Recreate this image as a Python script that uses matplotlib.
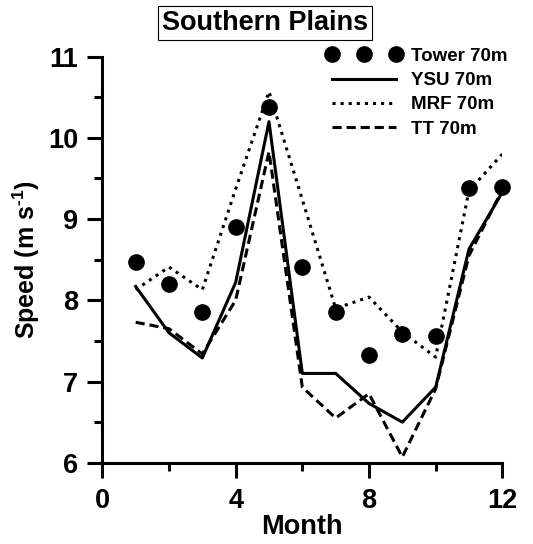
import numpy as np
import matplotlib
matplotlib.use('Agg')
import matplotlib.pyplot as plt
from matplotlib.ticker import MultipleLocator

plt.rcParams['font.family'] = ['Liberation Sans', 'DejaVu Sans']
plt.rcParams['font.weight'] = 'bold'
plt.rcParams['mathtext.fontset'] = 'custom'
plt.rcParams['mathtext.bf'] = 'Liberation Sans:bold'
plt.rcParams['mathtext.rm'] = 'Liberation Sans:bold'

# Donnees
months = np.arange(1, 13)
tower = [8.47, 8.20, 7.86, 8.90, 10.38, 8.41, 7.86, 7.33, 7.58, 7.56, 9.38, 9.39]
ysu = [8.17, 7.60, 7.29, 8.22, 10.20, 7.10, 7.10, 6.73, 6.50, 6.93, 8.63, 9.33]
mrf = [8.13, 8.41, 8.13, 9.37, 10.57, 9.24, 7.90, 8.04, 7.61, 7.30, 9.35, 9.80]
tt = [7.73, 7.65, 7.34, 8.00, 9.83, 6.93, 6.55, 6.85, 6.07, 6.91, 8.55, 9.36]

fig = plt.figure(figsize=(5.33, 5.44), dpi=100)
ax = fig.add_axes([0.192, 0.1494, 0.7504, 0.7464])

ax.plot(months, tower, 'o', color='black', markersize=11, clip_on=False,
        label='Tower 70m')
ax.plot(months, ysu, '-', color='black', linewidth=2.2, label='YSU 70m')
ax.plot(months, mrf, ':', color='black', linewidth=2.2, label='MRF 70m')
ax.plot(months, tt, '--', color='black', linewidth=2.2, dashes=(3, 1.6),
        label='TT 70m')

ax.set_xlim(0, 12)
ax.set_ylim(6, 11)
ax.xaxis.set_major_locator(MultipleLocator(4))
ax.xaxis.set_minor_locator(MultipleLocator(2))
ax.yaxis.set_major_locator(MultipleLocator(1))
ax.yaxis.set_minor_locator(MultipleLocator(0.5))

for s in ['top', 'right']:
    ax.spines[s].set_visible(False)
for s in ['left', 'bottom']:
    ax.spines[s].set_linewidth(2.2)

ax.tick_params(which='major', length=10.5, width=2.2, labelsize=19.5)
ax.tick_params(axis='x', which='major', pad=8)
ax.tick_params(axis='y', which='major', pad=7)
ax.tick_params(which='minor', length=6, width=2.2)
for lab in ax.get_xticklabels() + ax.get_yticklabels():
    lab.set_fontweight('bold')

ax.set_xlabel('Month', fontsize=19.5, fontweight='bold', labelpad=0)
ax.set_ylabel(r'Speed (m s$^{\text{-1}}$)', fontsize=18, fontweight='bold',
              labelpad=4)

leg = ax.legend(loc='upper left', bbox_to_anchor=(0.5375, 1.045), frameon=False,
                fontsize=13.5, handlelength=4.0, numpoints=3, labelspacing=0.38,
                handletextpad=0.5, borderpad=0)
for t in leg.get_texts():
    t.set_fontweight('bold')

fig.text(265 / 533, 1 - 23 / 544, 'Southern Plains', fontsize=19.5,
         fontweight='bold', ha='center', va='center',
         bbox=dict(boxstyle='square,pad=0.15', facecolor='white',
                   edgecolor='black', linewidth=0.8))

fig.savefig('out.png', dpi=100)
